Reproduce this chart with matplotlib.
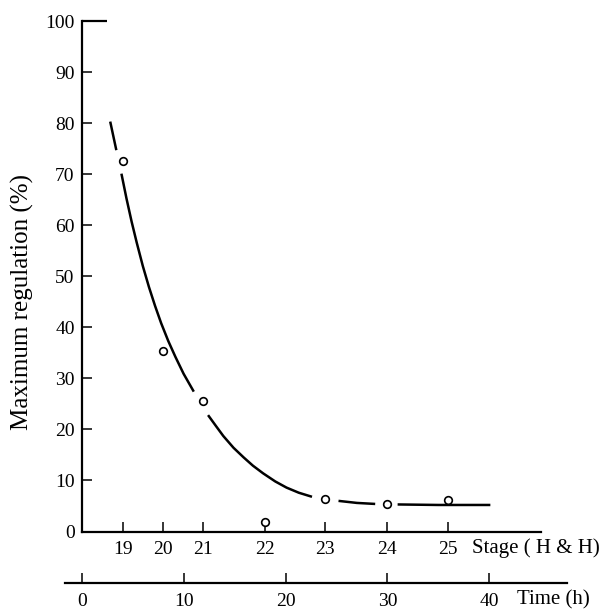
## Import required libraries
import numpy as np # general math
import matplotlib
matplotlib.use("Agg")
import matplotlib.pyplot as plt # plotting

plt.rcParams['font.family'] = ['Liberation Serif', 'DejaVu Serif']

## Data
stages = [19, 20, 21, 22, 23, 24, 25]
stage_hours = [4.1, 8.0, 11.9, 18.0, 23.9, 30.0, 35.9] # stage positions on the time scale
regulation = [72.5, 35.4, 25.5, 1.8, 6.4, 5.4, 6.2] # max regulation (%) at each stage

# hand drawn curve, nan = gap left round a data point
curve_t = [2.8, 3.4, np.nan,
           3.9, 4.4, 4.9, 5.4, 6.0, 6.6, 7.2, 7.8, 8.5, 9.2, 10.0, 11.0, np.nan,
           12.4, 13.2, 13.9, 14.9, 15.9, 16.8, 17.8, 19.0, 20.1, 21.3, 22.6, np.nan,
           25.2, 27.0, 28.8, np.nan,
           31.0, 35.0, 40.1]
curve_y = [80.3, 74.7, np.nan,
           70.1, 65.2, 60.7, 56.6, 52.0, 47.9, 44.2, 40.8, 37.3, 34.2, 30.9, 27.4, np.nan,
           22.8, 20.6, 18.7, 16.4, 14.5, 12.9, 11.4, 9.8, 8.6, 7.6, 6.8, np.nan,
           6.0, 5.6, 5.4, np.nan,
           5.3, 5.2, 5.2]

time_ticks = [0, 10, 20, 30, 40]
y_ticks = [0, 10, 20, 30, 40, 50, 60, 70, 80, 90, 100]

fig = plt.figure(figsize=(6.1, 6.11), dpi=100)

## main axes: stage scale along the bottom
ax = fig.add_axes([0.1339, 0.1301, 0.753, 0.8355])
ax.plot(curve_t, curve_y, color='black', lw=1.8, solid_capstyle='butt',
        solid_joinstyle='round')
ax.plot(stage_hours, regulation, 'o', ms=5.5, mfc='white', mec='black', mew=1.2,
        clip_on=False, zorder=5)
ax.hlines(100, 0, 2.5, color='black', lw=1.6, clip_on=False) # top stub of y axis

ax.set_xlim(0, 45.07)
ax.set_ylim(0, 100)
ax.set_xticks(stage_hours)
ax.set_xticklabels([str(s) for s in stages])
ax.set_yticks(y_ticks)
ax.tick_params(axis='both', direction='in', length=7.5, width=1.1, labelsize=14,
               color='black')
ax.tick_params(axis='x', pad=7)
ax.tick_params(axis='y', pad=5)
for side in ['top', 'right']:
    ax.spines[side].set_visible(False)
for side in ['left', 'bottom']:
    ax.spines[side].set_linewidth(1.6)
ax.set_ylabel("Maximum regulation (%)", fontsize=18)
ax.yaxis.set_label_coords(-0.103, 0.45)

## second axis: time in hours
ax2 = fig.add_axes([0.1066, 0.0453, 0.8225, 0.0001])
ax2.set_xlim(-1.64, 47.6)
ax2.set_xticks(time_ticks)
ax2.set_yticks([])
ax2.tick_params(axis='x', direction='in', length=7.5, width=1.1, labelsize=14, pad=7)
for side in ['top', 'right', 'left']:
    ax2.spines[side].set_visible(False)
ax2.spines['bottom'].set_linewidth(1.6)
ax2.patch.set_visible(False)

fig.text(471.7 / 610, 1 - 548 / 611, "Stage ( H & H)", fontsize=15, va='center')
fig.text(516.7 / 610, 1 - 600 / 611, "Time (h)", fontsize=15, va='center')

plt.savefig("out.png", dpi=100)
